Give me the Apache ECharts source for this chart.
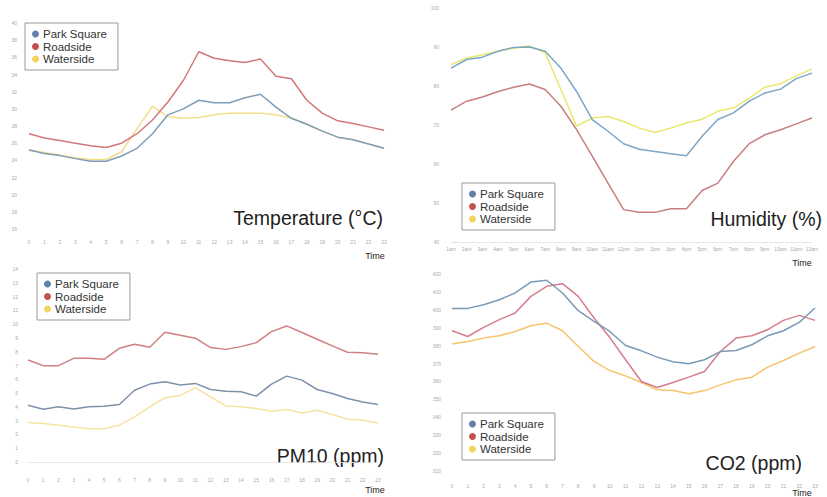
<!DOCTYPE html>
<html>
<head>
<meta charset="utf-8">
<script src="https://cdn.jsdelivr.net/npm/echarts@6/dist/echarts.min.js"></script>
<style>
html,body{margin:0;padding:0;background:#fff;}
#chart{width:827px;height:497px;}
</style>
</head>
<body>
<div id="chart"></div>
<script>
var hours = ["0","1","2","3","4","5","6","7","8","9","10","11","12","13","14","15","16","17","18","19","20","21","22","23"];
var hourLabels = ["1am","2am","3am","4am","5am","6am","7am","8am","9am","10am","11am","12pm","1pm","2pm","3pm","4pm","5pm","6pm","7pm","8pm","9pm","10pm","11pm","12am"];
var seriesNames = ["Park Square","Roadside","Waterside"];

var tempPark = [25.2,24.8,24.55,24.2,23.9,23.9,24.5,25.4,27.1,29.3,30.0,31.0,30.7,30.7,31.3,31.7,30.2,28.9,28.2,27.4,26.7,26.4,25.9,25.4];
var tempRoad = [27.1,26.6,26.3,26.0,25.7,25.5,26.0,27.1,28.7,30.8,33.3,36.65,35.9,35.6,35.4,35.8,33.8,33.5,31.0,29.5,28.6,28.3,27.9,27.5];
var tempWater = [25.2,24.9,24.6,24.3,24.1,24.1,25.0,27.7,30.3,29.1,28.9,29.0,29.3,29.5,29.5,29.5,29.3,28.9,28.2,27.4,26.7,26.4,25.9,25.4];

var humPark = [84.6,86.8,87.4,88.9,89.9,90.0,88.9,84.6,78.6,71.4,68.4,65.2,63.8,63.2,62.6,62.1,67.1,71.4,73.1,76.1,78.2,79.2,81.9,83.3];
var humRoad = [73.8,76.1,77.2,78.6,79.7,80.5,79.1,74.8,68.8,62.0,55.1,48.3,47.6,47.6,48.5,48.5,53.2,55.1,60.7,65.2,67.5,68.8,70.3,71.8];
var humWater = [85.5,87.2,88.0,88.9,89.7,90.3,88.5,79.1,69.7,71.8,72.2,70.9,69.2,68.1,69.2,70.5,71.5,73.5,74.4,76.9,79.7,80.6,82.6,84.4];

var pmPark = [4.12,3.83,4.0,3.85,4.0,4.05,4.17,5.2,5.65,5.82,5.58,5.7,5.26,5.14,5.09,4.78,5.65,6.23,5.94,5.26,4.97,4.61,4.36,4.17];
var pmRoad = [7.4,6.99,6.99,7.52,7.52,7.45,8.25,8.54,8.32,9.41,9.2,8.98,8.3,8.17,8.37,8.66,9.46,9.87,9.39,8.9,8.42,7.96,7.93,7.81];
var pmWater = [2.86,2.79,2.67,2.54,2.42,2.42,2.67,3.27,4.0,4.66,4.83,5.38,4.73,4.07,4.0,3.88,3.68,3.81,3.56,3.76,3.44,3.1,3.03,2.83];

var co2Park = [400.8,400.8,402.8,405.6,409.4,415.5,416.5,409.4,399.5,393.5,387.9,380.1,377.1,373.6,371.0,369.9,372.1,376.7,377.3,380.5,385.5,388.3,393.0,401.0];
var co2Road = [388.3,385.1,390.2,394.5,398.2,407.5,413.1,414.6,407.5,395.4,384.5,372.1,360.0,356.6,359.4,362.4,365.6,376.7,384.2,385.5,388.9,394.1,396.9,394.1];
var co2Water = [380.9,382.3,384.2,385.5,387.9,391.1,392.6,388.3,379.5,371.2,366.1,363.1,359.4,355.3,354.9,353.1,354.9,358.1,360.9,362.4,368.0,371.7,375.8,379.5];

var titles = ["Temperature (°C)","Humidity (%)","PM10 (ppm)","CO2 (ppm)"];

var FONT = "Liberation Sans, Arial, sans-serif";
var chart = echarts.init(document.getElementById('chart'), null, {renderer:'svg'});

var panels = [
  {grid:{left:29,top:23,width:355,height:206}, min:16,max:40,interval:2, cats:hours, data:[tempPark,tempRoad,tempWater],
   colors:['#7f9cba','#d27878','#f3df8a'], yMargin:12, xMargin:10, axisLine:false,
   legend:{left:25,top:23}, title:{x:383,y:218}, time:{x:375,y:256}},
  {grid:{left:451,top:8,width:361,height:234}, min:40,max:100,interval:10, cats:hourLabels, data:[humPark,humRoad,humWater],
   colors:['#7ba6c9','#c97e7e','#e9e86c'], yMargin:12, xMargin:4, axisLine:true,
   legend:{left:462,top:183}, title:{x:822,y:219}, time:{x:802,y:263}},
  {grid:{left:28,top:269,width:350,height:193}, min:0,max:14,interval:1, cats:hours, data:[pmPark,pmRoad,pmWater],
   colors:['#7d92aa','#d07f82','#f6e3a0'], yMargin:10, xMargin:15, axisLine:true,
   legend:{left:37,top:273}, title:{x:384,y:456}, time:{x:375,y:490}},
  {grid:{left:452,top:274,width:363,height:197}, min:310,max:420,interval:10, cats:hours, data:[co2Park,co2Road,co2Water],
   colors:['#7b9ab6','#d57d8c','#f5c46c'], yMargin:11, xMargin:12, axisLine:false,
   legend:{left:462,top:413}, title:{x:802,y:463}, time:{x:802,y:493}}
];
var legendColors = ['#5f81a8','#c4504f','#f2d45e'];

var grids=[],xAxes=[],yAxes=[],series=[],legends=[],graphics=[];
panels.forEach(function(p,k){
  grids.push(p.grid);
  xAxes.push({type:'category',gridIndex:k,data:p.cats,boundaryGap:false,
    axisLine:{show:p.axisLine,lineStyle:{color:'#e2e2e2',type:'dotted',width:1}},
    axisTick:{show:false},
    axisLabel:{fontSize:5,color:'#aaa',margin:p.xMargin,interval:0,fontFamily:FONT}});
  yAxes.push({type:'value',gridIndex:k,min:p.min,max:p.max,interval:p.interval,
    axisLine:{show:false},axisTick:{show:false},splitLine:{show:false},
    axisLabel:{fontSize:5,color:'#aaa',margin:p.yMargin,fontFamily:FONT}});
  p.data.forEach(function(d,j){
    series.push({type:'line',name:seriesNames[j],xAxisIndex:k,yAxisIndex:k,data:d,
      showSymbol:false,symbol:'none',lineStyle:{width:1.5,color:p.colors[j]},itemStyle:{color:p.colors[j]},
      z:3-j});
  });
  legends.push({left:p.legend.left,top:p.legend.top,orient:'vertical',
    borderColor:'#999',borderWidth:1,padding:[5,11,5,7],itemGap:0.5,itemWidth:7,itemHeight:7,
    icon:'circle',selectedMode:false,
    textStyle:{fontSize:11.5,color:'#333',fontFamily:FONT,padding:[0,0,0,-1]},
    data:seriesNames.map(function(n,j){return {name:n,itemStyle:{color:legendColors[j]}};})});
  graphics.push({type:'text',x:p.title.x,y:p.title.y,
    style:{text:titles[k],fontSize:19.5,fontFamily:FONT,fill:'#222',align:'right',verticalAlign:'middle'}});
  graphics.push({type:'text',x:p.time.x,y:p.time.y,
    style:{text:'Time',fontSize:9,fontFamily:FONT,fill:'#222',align:'center',verticalAlign:'middle'}});
});

chart.setOption({
  animation:false,
  backgroundColor:'#fff',
  grid:grids,xAxis:xAxes,yAxis:yAxes,series:series,legend:legends,graphic:graphics
});
</script>
</body>
</html>
